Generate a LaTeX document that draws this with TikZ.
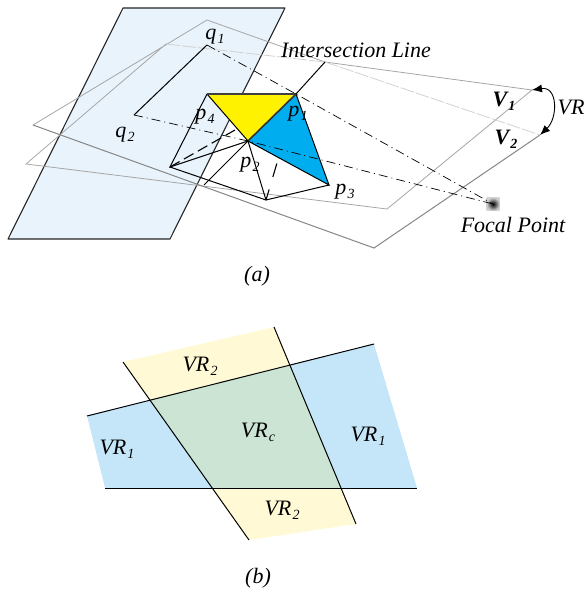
\documentclass[tikz,border=0pt]{standalone}
\usepackage{fontspec}
\setmainfont{Liberation Serif}
\usetikzlibrary{arrows.meta,positioning,shadings}
\definecolor{paneblue}{HTML}{E9F3FB}
\definecolor{faceyellow}{HTML}{FFF200}
\definecolor{faceblue}{HTML}{00AEEF}
\definecolor{regionblue}{HTML}{C5E6F8}
\definecolor{regionyellow}{HTML}{FFFAD5}
\definecolor{regiongreen}{HTML}{CBE4D3}
\newcommand{\lowidx}[1]{\raisebox{-0.4ex}{\fontsize{14}{15}\selectfont\hspace{0.08em}#1}}

\begin{document}
\begin{tikzpicture}[
  x=1pt, y=-1pt,
  font=\fontsize{22}{25}\selectfont\itshape,
  >={Latex[length=10pt,width=8pt]},
  edge/.style={draw=black, line width=1pt},
  pane/.style={draw=black!85, line width=1.1pt, line join=round, fill=paneblue},
  lightplane/.style={draw=gray!70, line width=0.8pt},
  darkplane/.style={draw=gray!95, line width=1pt},
  hiddenplane/.style={draw=gray!35, line width=0.8pt, dash pattern=on 14pt off 2pt},
  ray/.style={draw=black, line width=0.7pt, dash pattern=on 9pt off 4pt on 1pt off 4pt},
  hiddenedge/.style={draw=black, line width=1.1pt, dash pattern=on 11pt off 5pt},
  lbl/.style={inner sep=0pt}
]
  \useasboundingbox (0,0) rectangle (584,594);

  \coordinate (pa) at (123,8);
  \coordinate (pb) at (285,8);
  \coordinate (pc) at (170,239);
  \coordinate (pd) at (8,239);
  \coordinate (top1) at (207,20);
  \coordinate (left1) at (33,125);
  \coordinate (low1) at (374,248);
  \coordinate (end2) at (540,135);
  \coordinate (top2) at (166,44);
  \coordinate (left2) at (26,164);
  \coordinate (low2) at (387,209);
  \coordinate (end1) at (532,90);
  \coordinate (lineend) at (325,62);
  \coordinate (linelow) at (204,185);
  \coordinate (q1) at (207,45);
  \coordinate (q2) at (134,115);
  \coordinate (p1) at (296,94);
  \coordinate (p2) at (248,141);
  \coordinate (p3) at (329,185);
  \coordinate (p4) at (207,94);
  \coordinate (p5) at (170,167);
  \coordinate (p6) at (266,200);
  \coordinate (dash1) at (235,130);
  \coordinate (dash2) at (277,163);

  \draw[pane] (pa) -- (pb) -- (pc) -- (pd) -- cycle;

  \draw[lightplane] (left1) -- (top1) -- (lineend) -- (end1) -- (low2) -- (left2) -- (top2);
  \draw[darkplane] (left1) -- (low1) -- (end2);
  \draw[hiddenplane] (top2) -- (lineend) -- (end2);

  \fill[faceyellow] (p4) -- (p1) -- (p2) -- cycle;
  \fill[faceblue] (p1) -- (p3) -- (p2) -- cycle;

  \draw[edge] (q1) -- (q2);
  \draw[edge] (p1) -- (p3) -- (p2);
  \draw[edge] (p4) -- (p5) -- (p2);
  \draw[edge] (p5) -- (p6) -- (p3);
  \draw[edge] (p2) -- (p6);
  \draw[edge] (p4) -- (p2);
  \draw[draw=black!75, line width=1.3pt] (p4) -- (p1);
  \draw[draw=black!80, line width=1.6pt] (p2) -- (p1);
  \draw[edge] (p1) -- (lineend);
  \draw[edge] (p2) -- (linelow);
  \draw[hiddenedge] (p5) -- (dash1);
  \draw[hiddenedge, dash pattern=on 11pt off 13pt on 14pt] (p6) -- (dash2);

  \node[minimum size=13pt, inner sep=0pt, shading=radial, inner color=black, outer color=gray!35] (focal) at (493,204) {};
  \draw[ray] (q1) -- (p1) -- (focal.center);
  \draw[ray] (q2) -- (p2) -- (focal.center);
  \draw[<->, line width=0.9pt, black] (end1) .. controls (558,86) and (558,118) .. (end2);

  \node[lbl] (intersection) at (356,50) {Intersection Line};
  \node[lbl] (focallabel) at (513,225) {Focal Point};
  \node[lbl] (q1label) at (215,37) {q\lowidx{1}};
  \node[lbl] (q2label) at (125,135) {q\lowidx{2}};
  \node[lbl] (p4label) at (205,117) {p\lowidx{4}};
  \node[lbl] (p1label) at (298,114) {p\lowidx{1}};
  \node[lbl] (p2label) at (250,165) {p\lowidx{2}};
  \node[lbl] (p3label) at (345,192) {p\lowidx{3}};
  \node[lbl] (v1label) at (504,101) {\bfseries V\lowidx{1}};
  \node[lbl] (v2label) at (506,139) {\bfseries V\lowidx{2}};
  \node[lbl] (vrlabel) at (571,107) {VR};
  \node[lbl] (alabel) at (257,276) {(a)};

  \coordinate (ra) at (87,416);
  \coordinate (rb) at (374,344);
  \coordinate (rc) at (417,488);
  \coordinate (rd) at (105,488);
  \coordinate (sa) at (123,362);
  \coordinate (sb) at (274,327);
  \coordinate (sc) at (356,524);
  \coordinate (sd) at (249,540);

  \fill[regionblue] (ra) -- (rb) -- (rc) -- (rd) -- cycle;
  \fill[regionyellow] (sa) -- (sb) -- (sc) -- (sd) -- cycle;
  \begin{scope}
    \clip (ra) -- (rb) -- (rc) -- (rd) -- cycle;
    \fill[regiongreen] (sa) -- (sb) -- (sc) -- (sd) -- cycle;
  \end{scope}
  \draw[edge] (ra) -- (rb);
  \draw[edge] (rd) -- (rc);
  \draw[edge] (sa) -- (sd);
  \draw[edge] (sb) -- (sc);

  \node[lbl] (vr2top) at (200,366) {VR\lowidx{2}};
  \node[lbl] (vrc) at (258,432) {VR\lowidx{c}};
  \node[lbl] (vr1right) at (368,436) {VR\lowidx{1}};
  \node[lbl] (vr1left) at (117,449) {VR\lowidx{1}};
  \node[lbl] (vr2low) at (282,510) {VR\lowidx{2}};
  \node[lbl] (blabel) at (258,578) {(b)};
\end{tikzpicture}
\end{document}
